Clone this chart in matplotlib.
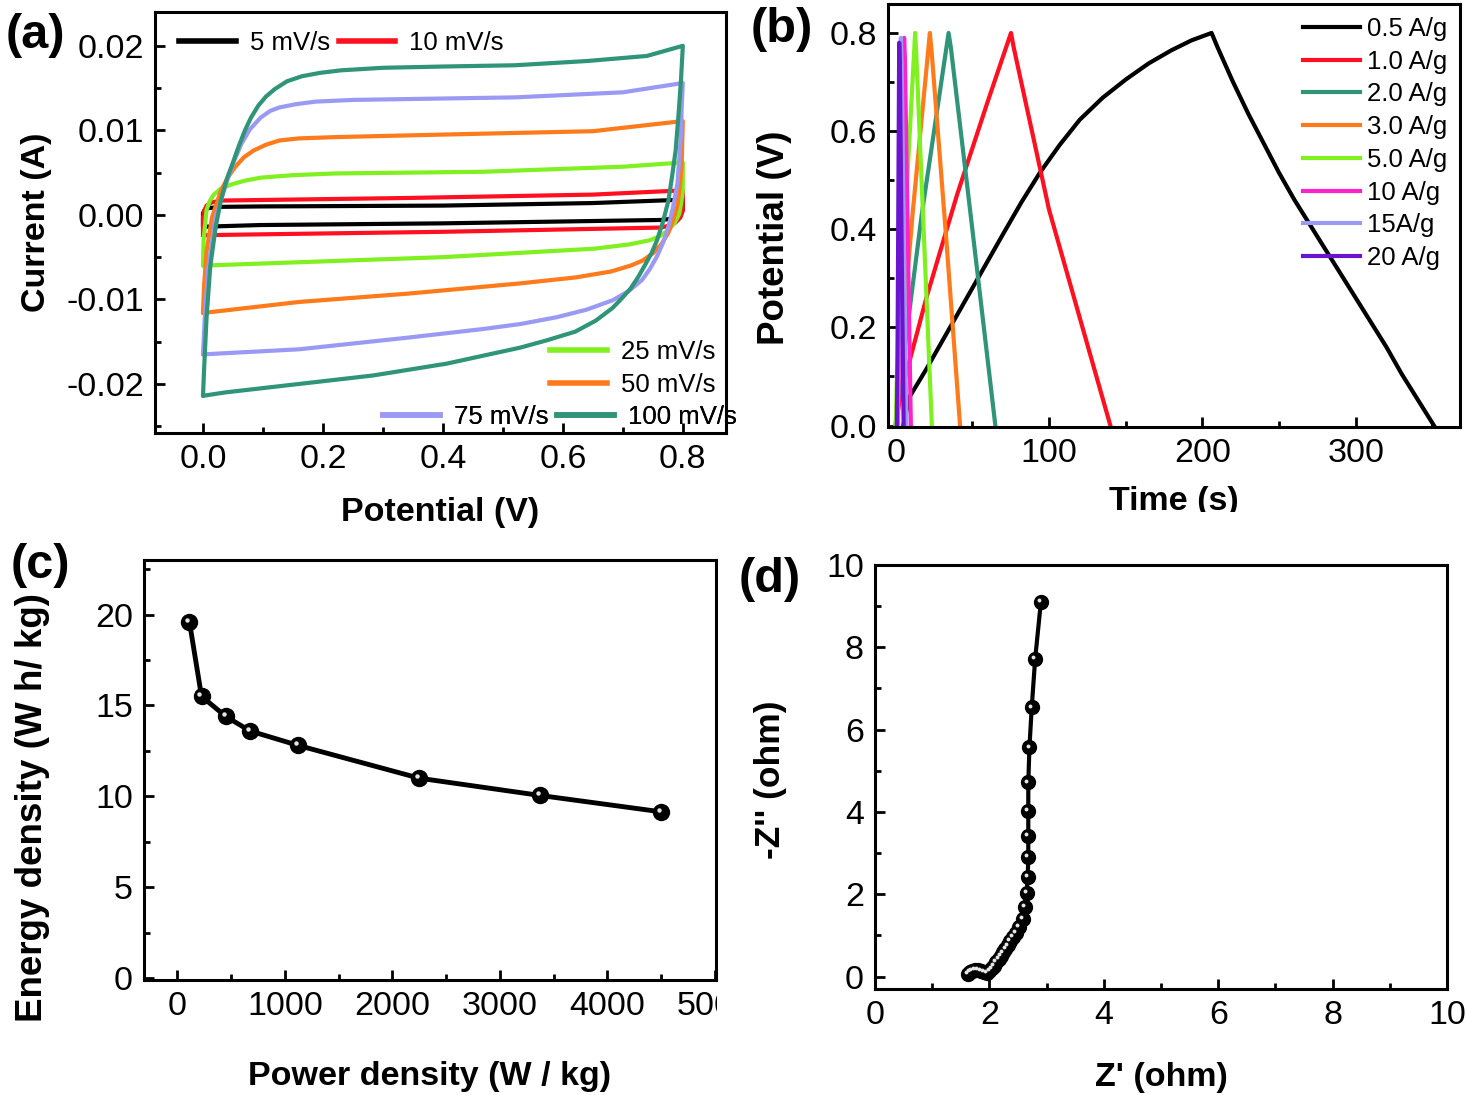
import numpy as np
import matplotlib
matplotlib.use("Agg")
import matplotlib.pyplot as plt
import matplotlib.transforms as mtransforms
from matplotlib.lines import Line2D
from matplotlib.ticker import MultipleLocator, FormatStrFormatter

plt.rcParams['font.family'] = ['Liberation Sans', 'DejaVu Sans']
plt.rcParams['axes.unicode_minus'] = False

# ---------------- data ----------------
# (a) cyclic voltammograms: potential (V), current (mA)
cv_rates = ['5 mV/s', '10 mV/s', '25 mV/s', '50 mV/s', '75 mV/s', '100 mV/s']
cv_colors = ['#000000', '#ff1020', '#80f020', '#ff7a1a', '#9a9af5', '#2f9478']

cv5_v = [0.0, 0.0, 0.0, 0.003, 0.009, 0.03, 0.096, 0.40, 0.65, 0.80,
         0.80, 0.80, 0.796, 0.788, 0.776, 0.763, 0.40, 0.096, 0.0]
cv5_i = [-1.4, -0.6, 0.2, 0.6, 0.8, 0.95, 1.0, 1.1, 1.4, 1.8,
         1.2, 0.6, 0.1, -0.2, -0.5, -0.6, -1.0, -1.2, -1.4]

cv10_v = [0.0, 0.0, 0.0, 0.002, 0.006, 0.015, 0.033, 0.34, 0.65, 0.80,
          0.80, 0.80, 0.796, 0.788, 0.776, 0.763, 0.40, 0.096, 0.0]
cv10_i = [-2.4, -1.2, -0.3, 0.5, 1.1, 1.5, 1.7, 2.0, 2.4, 2.9,
          1.6, 0.5, -0.3, -0.9, -1.3, -1.5, -2.0, -2.3, -2.4]

cv25_v = [0.0, 0.001, 0.004, 0.006, 0.011, 0.018, 0.030, 0.047, 0.07, 0.096, 0.15, 0.22,
          0.467, 0.70, 0.80,
          0.80, 0.80, 0.797, 0.794, 0.786, 0.776, 0.762, 0.745, 0.71, 0.652, 0.40, 0.16, 0.0]
cv25_i = [-6.0, -3.0, -0.8, 0.6, 1.6, 2.4, 3.1, 3.6, 4.05, 4.4, 4.7, 4.9,
          5.1, 5.7, 6.2,
          4.4, 2.9, 1.3, 0.1, -1.0, -1.8, -2.5, -3.0, -3.5, -4.0, -5.0, -5.6, -6.0]

cv50_v = [0.0, 0.002, 0.006, 0.015, 0.030, 0.042, 0.054, 0.068, 0.084, 0.105, 0.127, 0.16,
          0.22, 0.40, 0.65, 0.80,
          0.799, 0.798, 0.795, 0.791, 0.784, 0.776, 0.764, 0.751, 0.733, 0.713, 0.680,
          0.621, 0.529, 0.344, 0.16, 0.0]
cv50_i = [-11.6, -8.2, -4.3, -0.3, 2.9, 4.5, 5.7, 6.8, 7.6, 8.3, 8.8, 9.05,
          9.2, 9.5, 9.9, 11.1,
          8.5, 5.8, 3.3, 1.1, -0.6, -2.1, -3.5, -4.5, -5.4, -6.0, -6.7,
          -7.4, -8.1, -9.3, -10.3, -11.6]

cv75_v = [0.0, 0.003, 0.009, 0.021, 0.040, 0.052, 0.064, 0.078, 0.096, 0.112, 0.127, 0.155,
          0.188, 0.25, 0.34, 0.52, 0.70, 0.80,
          0.798, 0.797, 0.794, 0.791, 0.784, 0.776, 0.767, 0.757, 0.745, 0.732, 0.710,
          0.683, 0.640, 0.590, 0.530, 0.467, 0.344, 0.16, 0.0]
cv75_i = [-16.5, -12.1, -6.2, -0.3, 4.0, 6.4, 8.4, 10.1, 11.5, 12.3, 12.7, 13.1,
          13.4, 13.6, 13.7, 13.9, 14.5, 15.6,
          12.5, 9.6, 6.5, 3.7, 1.0, -1.4, -3.3, -4.9, -6.4, -7.7, -9.0,
          -10.1, -11.2, -12.1, -12.9, -13.5, -14.5, -15.9, -16.5]

cv100_v = [0.0, 0.002, 0.006, 0.012, 0.021, 0.030, 0.040, 0.050, 0.060, 0.070, 0.080,
           0.092, 0.105, 0.120, 0.140, 0.165, 0.195, 0.23, 0.30, 0.40, 0.52, 0.64, 0.74, 0.80,
           0.797, 0.793, 0.788, 0.782, 0.776, 0.767, 0.757, 0.748, 0.738, 0.726, 0.713,
           0.698, 0.683, 0.655, 0.621, 0.575, 0.529, 0.406, 0.283, 0.16, 0.037, 0.0]
cv100_i = [-21.4, -18.0, -12.1, -6.2, -1.5, 1.8, 4.3, 6.2, 8.2, 10.0, 11.5,
           12.9, 14.0, 14.9, 15.8, 16.4, 16.8, 17.1, 17.4, 17.55, 17.7, 18.2, 18.8, 20.0,
           16.0, 12.0, 7.6, 4.5, 1.7, -0.8, -3.0, -4.5, -5.8, -7.3, -8.7,
           -9.9, -11.0, -12.5, -13.8, -14.8, -15.7, -17.6, -19.0, -20.0, -21.0, -21.4]

cv_v = [cv5_v, cv10_v, cv25_v, cv50_v, cv75_v, cv100_v]
cv_i = [cv5_i, cv10_i, cv25_i, cv50_i, cv75_i, cv100_i]

# (b) galvanostatic charge/discharge: time (s), potential (V)
gcd_labels = ['0.5 A/g', '1.0 A/g', '2.0 A/g', '3.0 A/g', '5.0 A/g', '10 A/g', '15A/g', '20 A/g']
gcd_colors = ['#000000', '#ff1020', '#2f9478', '#ff7a1a', '#80f020', '#ff22cc', '#9a9af5', '#6a14d0']

gcd05_t = [5, 9, 20, 30, 40, 50, 60, 70, 82, 94, 107, 120, 135, 150, 165, 180, 193, 206,
           210, 220, 230, 240, 250, 260, 270, 280, 290, 300, 310, 320, 330, 340, 351]
gcd05_v = [0.0, 0.058, 0.115, 0.17, 0.225, 0.28, 0.335, 0.39, 0.455, 0.515, 0.572, 0.623,
           0.668, 0.705, 0.738, 0.765, 0.785, 0.80,
           0.77, 0.70, 0.635, 0.575, 0.515, 0.46, 0.41, 0.36, 0.31, 0.26, 0.21, 0.16,
           0.105, 0.055, 0.0]
gcd1_t = [0, 3, 20, 40, 60, 75.2, 77, 100, 120, 140]
gcd1_v = [0.0, 0.06, 0.26, 0.47, 0.66, 0.80, 0.77, 0.44, 0.22, 0.0]
gcd2_t = [0, 1.5, 17, 34.5, 36, 50, 65]
gcd2_v = [0.0, 0.05, 0.43, 0.80, 0.77, 0.40, 0.0]
gcd3_t = [0, 1, 11, 22.3, 23.5, 33, 42]
gcd3_v = [0.0, 0.06, 0.43, 0.80, 0.76, 0.38, 0.0]
gcd5_t = [0.1, 0.6, 6.5, 12.7, 13.4, 18.5, 23.6]
gcd5_v = [0.0, 0.08, 0.44, 0.80, 0.76, 0.38, 0.0]
gcd10_t = [1.5, 2.0, 5.5, 6.0, 8.0, 9.9]
gcd10_v = [0.0, 0.11, 0.79, 0.75, 0.36, 0.0]
gcd15_t = [1.2, 1.8, 3.4, 3.9, 5.5, 7.0]
gcd15_v = [0.0, 0.14, 0.79, 0.74, 0.34, 0.0]
gcd20_t = [0.8, 1.3, 2.3, 2.8, 4.0, 5.2]
gcd20_v = [0.0, 0.20, 0.78, 0.72, 0.33, 0.0]

gcd_t = [gcd05_t, gcd1_t, gcd2_t, gcd3_t, gcd5_t, gcd10_t, gcd15_t, gcd20_t]
gcd_v = [gcd05_v, gcd1_v, gcd2_v, gcd3_v, gcd5_v, gcd10_v, gcd15_v, gcd20_v]

# (c) Ragone plot
power = [112.5, 225, 450, 675, 1125, 2250, 3375, 4500]
energy = [19.6, 15.5, 14.4, 13.6, 12.8, 11.0, 10.05, 9.15]

# (d) Nyquist plot
z_re = [1.62, 1.66, 1.70, 1.75, 1.80, 1.85, 1.90, 1.95, 2.00, 2.04, 2.08, 2.12, 2.16,
        2.20, 2.24, 2.28, 2.32, 2.36, 2.41, 2.46, 2.52, 2.58, 2.62, 2.65, 2.67, 2.68,
        2.68, 2.68, 2.68, 2.70, 2.74, 2.80, 2.90]
z_im = [0.06, 0.11, 0.14, 0.16, 0.16, 0.14, 0.11, 0.10, 0.13, 0.20, 0.27, 0.35, 0.43,
        0.51, 0.59, 0.67, 0.76, 0.86, 0.96, 1.07, 1.20, 1.40, 1.70, 2.03, 2.43, 2.90,
        3.41, 4.03, 4.72, 5.57, 6.54, 7.72, 9.10]

# ---------------- figure ----------------
W, H = 1467, 1095
fig = plt.figure(figsize=(W / 100, H / 100), dpi=100)


def px_axes(l, r, t, b):
    return fig.add_axes([l / W, (H - b) / H, (r - l) / W, (b - t) / H])


ax_a = px_axes(155, 726, 12, 433)
ax_b = px_axes(888, 1460, 4, 427)
ax_c = px_axes(144, 716, 560, 980)
ax_d = px_axes(875, 1447, 565, 989)

FS = 24.5
for ax in (ax_a, ax_b, ax_c, ax_d):
    for sp in ax.spines.values():
        sp.set_linewidth(2.2)
    ax.tick_params(which='both', direction='in', top=False, right=False,
                   labelsize=FS, width=2.0, pad=8)
    ax.tick_params(which='major', length=7)
    ax.tick_params(which='minor', length=4)

# (a)
for v, i, c in zip(cv_v, cv_i, cv_colors):
    ax_a.plot(v, np.array(i) / 1000.0, color=c, lw=3.0,
              solid_joinstyle='round', solid_capstyle='round')
ax_a.set_xlim(-0.08, 0.872)
ax_a.set_ylim(-0.0258, 0.0240)
ax_a.xaxis.set_major_locator(MultipleLocator(0.2))
ax_a.xaxis.set_minor_locator(MultipleLocator(0.1))
ax_a.yaxis.set_major_locator(MultipleLocator(0.01))
ax_a.yaxis.set_minor_locator(MultipleLocator(0.005))
ax_a.xaxis.set_major_formatter(FormatStrFormatter('%.1f'))
ax_a.yaxis.set_major_formatter(FormatStrFormatter('%.2f'))
ax_a.set_xlabel('Potential (V)', fontsize=FS, fontweight='bold', labelpad=16)
ax_a.set_ylabel('Current (A)', fontsize=FS, fontweight='bold', labelpad=10)

handles_a = [Line2D([], [], color=c, lw=4) for c in cv_colors]
leg_kw = dict(frameon=False, fontsize=18.5, handlelength=2.2, handletextpad=0.55,
              borderpad=0, borderaxespad=0, columnspacing=0.35, labelspacing=0.36,
              bbox_transform=fig.transFigure)
leg1 = ax_a.legend(handles_a[:2], cv_rates[:2], ncol=2, loc='upper left',
                   bbox_to_anchor=(179 / W, (H - 31) / H), **leg_kw)
ax_a.add_artist(leg1)
leg2 = ax_a.legend(handles_a[2:4], cv_rates[2:4], ncol=1, loc='upper left',
                   bbox_to_anchor=(550 / W, (H - 340) / H), **leg_kw)
ax_a.add_artist(leg2)
leg3 = ax_a.legend(handles_a[4:], cv_rates[4:], ncol=2, loc='upper left',
                   bbox_to_anchor=(383 / W, (H - 405) / H), **leg_kw)
ax_a.add_artist(leg3)

# (b)
for t, v, c, lab in zip(gcd_t, gcd_v, gcd_colors, gcd_labels):
    ax_b.plot(t, v, color=c, lw=3.0, label=lab, solid_joinstyle='round')
ax_b.set_xlim(-5, 368)
ax_b.set_ylim(-0.003, 0.859)
ax_b.xaxis.set_major_locator(MultipleLocator(100))
ax_b.xaxis.set_minor_locator(MultipleLocator(50))
ax_b.yaxis.set_major_locator(MultipleLocator(0.2))
ax_b.yaxis.set_minor_locator(MultipleLocator(0.1))
ax_b.yaxis.set_major_formatter(FormatStrFormatter('%.1f'))
ax_b.set_xlabel('Time (s)', fontsize=FS, fontweight='bold', labelpad=12)
ax_b.set_ylabel('Potential (V)', fontsize=26.5, fontweight='bold')
ax_b.yaxis.set_label_coords(-0.168, 0.447)
ax_b.legend(loc='upper left', bbox_to_anchor=(1303 / W, (H - 17) / H),
            bbox_transform=fig.transFigure, frameon=False, fontsize=18.5,
            handlelength=2.2, handletextpad=0.3, borderpad=0, borderaxespad=0,
            labelspacing=0.34)

# (c)
hl_c = mtransforms.offset_copy(ax_c.transData, fig=fig, x=-1.5, y=1.5, units='points')
ax_c.plot(power, energy, color='black', lw=3.5, marker='o', ms=11.5, mfc='black', mec='black')
ax_c.plot(power, energy, ls='none', marker='o', ms=3.2, mfc='#e6e6e6', mec='none',
          transform=hl_c)
ax_c.set_xlim(-310, 5010)
ax_c.set_ylim(-0.1, 23.0)
ax_c.set_xticks([0, 1000, 2000, 3000, 4000, 5000])
ax_c.xaxis.set_minor_locator(MultipleLocator(500))
ax_c.yaxis.set_major_locator(MultipleLocator(5))
ax_c.yaxis.set_minor_locator(MultipleLocator(2.5))
ax_c.set_xlabel('Power density (W / kg)', fontsize=FS, fontweight='bold', labelpad=28)
ax_c.set_ylabel('Energy density (W h/ kg)', fontsize=26.5, fontweight='bold')
ax_c.yaxis.set_label_coords(-0.164, 0.41)

# (d)
hl_d = mtransforms.offset_copy(ax_d.transData, fig=fig, x=-1.3, y=1.3, units='points')
ax_d.plot(z_re, z_im, color='black', lw=3.0, marker='o', ms=10, mfc='black', mec='black')
ax_d.plot(z_re, z_im, ls='none', marker='o', ms=2.8, mfc='#e6e6e6', mec='none',
          transform=hl_d)
ax_d.set_xlim(0, 10)
ax_d.set_ylim(-0.3, 10)
ax_d.xaxis.set_major_locator(MultipleLocator(2))
ax_d.xaxis.set_minor_locator(MultipleLocator(1))
ax_d.yaxis.set_major_locator(MultipleLocator(2))
ax_d.yaxis.set_minor_locator(MultipleLocator(1))
ax_d.set_xlabel("Z' (ohm)", fontsize=FS, fontweight='bold', labelpad=22)
ax_d.set_ylabel("-Z'' (ohm)", fontsize=25.5, fontweight='bold')
ax_d.yaxis.set_label_coords(-0.154, 0.493)

# panel letters
for txt, x, y in [('(a)', 35, 36), ('(b)', 782, 30), ('(c)', 40, 566), ('(d)', 770, 580)]:
    fig.text(x / W, (H - y) / H, txt, fontsize=35, fontweight='bold',
             ha='center', va='center')

# the source panels were cropped: the last tick label of (c) and the (b) x label are cut
clip_c = mtransforms.TransformedBbox(mtransforms.Bbox.from_extents(0, 0, 717, H),
                                     mtransforms.IdentityTransform())
for lab in ax_c.get_xticklabels():
    lab.set_clip_on(True)
    lab.set_clip_box(clip_c)
clip_b = mtransforms.TransformedBbox(mtransforms.Bbox.from_extents(800, H - 512, W, H),
                                     mtransforms.IdentityTransform())
ax_b.xaxis.label.set_clip_on(True)
ax_b.xaxis.label.set_clip_box(clip_b)

fig.savefig('out.png', dpi=100)
